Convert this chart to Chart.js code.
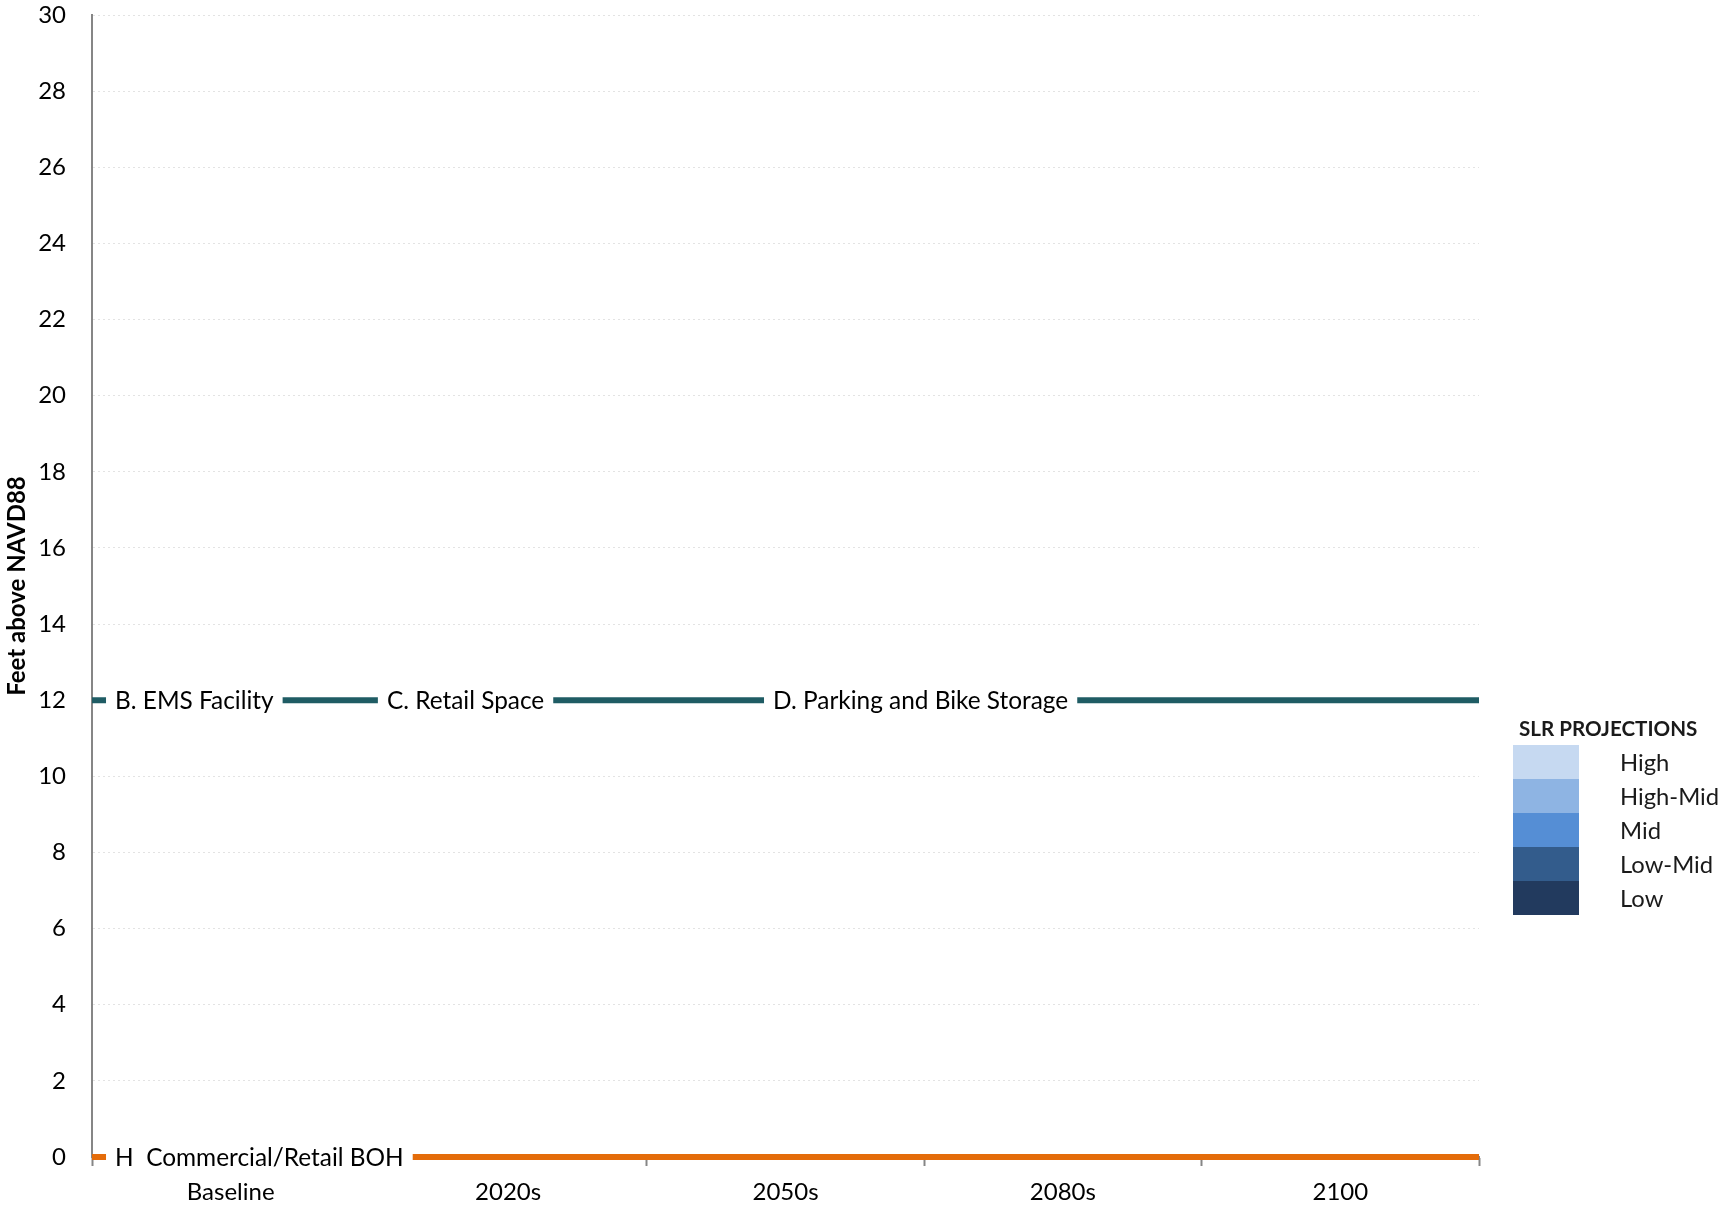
<!DOCTYPE html>
<html>
<head>
<meta charset="utf-8">
<title>Flood elevations of building uses</title>
<script src="https://cdn.jsdelivr.net/npm/chart.js@4/dist/chart.umd.min.js"></script>
<style>
  html, body { margin: 0; padding: 0; background: #ffffff; }
  #wrap { width: 1722px; height: 1209px; position: relative; }
</style>
</head>
<body>
<div id="wrap"><canvas id="chart"></canvas></div>
<script>
// Time horizons shown along the bottom axis
const periods = ['Baseline', '2020s', '2050s', '2080s', '2100'];

// Start and end of each elevation line, in period widths from the axis
const spanEnds = [0, 5];

// Elevation (feet above NAVD88) of each group of building uses
const upperElevation = [12, 12];
const lowerElevation = [0, 0];

// Uses sitting on each elevation line
const upperUses = ['B. EMS Facility', 'C. Retail Space', 'D. Parking and Bike Storage'];
const lowerUses = ['H  Commercial/Retail BOH'];

// Sea level rise scenarios in the key, top to bottom
const slrScenarios = ['High', 'High-Mid', 'Mid', 'Low-Mid', 'Low'];

const FONT = 'Lato, "Open Sans", sans-serif';
const AXIS_GREY = '#868686';

// Writes the use names on top of the elevation lines, each on a white box
const useNamesPlugin = {
  id: 'useNames',
  afterDatasetsDraw(chart, args, opts) {
    const ctx = chart.ctx;
    const xs = chart.scales.xSpan;
    const ys = chart.scales.y;
    ctx.save();
    ctx.font = opts.font;
    ctx.textBaseline = 'middle';
    ctx.textAlign = 'left';
    chart.data.datasets.forEach(ds => {
      const py = ys.getPixelForValue(ds.data[0].y);
      ds.useNames.forEach((name, i) => {
        const px = xs.getPixelForValue(ds.nameAnchors[i]);
        const w = ctx.measureText(name).width;
        ctx.fillStyle = '#ffffff';
        ctx.fillRect(px - opts.gap, py - opts.boxHalf, w + 2 * opts.gap, 2 * opts.boxHalf);
        ctx.fillStyle = '#000000';
        ctx.fillText(name, px, py + 1);
      });
    });
    ctx.restore();
  }
};

// Stacked colour key for the sea level rise scenarios
const slrKeyPlugin = {
  id: 'slrKey',
  afterDraw(chart, args, opts) {
    const ctx = chart.ctx;
    const left = chart.chartArea.right + opts.offsetX;
    ctx.save();
    ctx.font = 'bold ' + opts.titleSize + 'px ' + FONT;
    ctx.fillStyle = '#1a1a1a';
    ctx.textBaseline = 'middle';
    ctx.textAlign = 'left';
    ctx.fillText(opts.title, left + 6, opts.titleY);
    ctx.font = opts.labelSize + 'px ' + FONT;
    slrScenarios.forEach((name, i) => {
      const top = opts.top + i * opts.rowHeight;
      ctx.fillStyle = opts.colors[i];
      ctx.fillRect(left, top, opts.swatchWidth, opts.rowHeight);
      ctx.fillStyle = '#1a1a1a';
      ctx.fillText(name, left + opts.labelX, top + opts.rowHeight / 2 + 1);
    });
    ctx.restore();
  }
};

new Chart(document.getElementById('chart'), {
  type: 'line',
  data: {
    labels: periods,
    datasets: [
      {
        label: 'Upper uses',
        data: spanEnds.map((x, i) => ({ x, y: upperElevation[i] })),
        xAxisID: 'xSpan',
        borderColor: '#1f5c64',
        borderWidth: 6,
        borderCapStyle: 'butt',
        pointRadius: 0,
        tension: 0,
        clip: false,
        useNames: upperUses,
        nameAnchors: [0.083, 1.063, 2.455]
      },
      {
        label: 'Lower uses',
        data: spanEnds.map((x, i) => ({ x, y: lowerElevation[i] })),
        xAxisID: 'xSpan',
        borderColor: '#e46c0a',
        borderWidth: 6,
        borderCapStyle: 'butt',
        pointRadius: 0,
        tension: 0,
        clip: false,
        useNames: lowerUses,
        nameAnchors: [0.083]
      }
    ]
  },
  options: {
    responsive: true,
    maintainAspectRatio: false,
    animation: false,
    layout: { padding: { top: 15, right: 243, bottom: 0, left: 0 } },
    plugins: {
      legend: { display: false },
      tooltip: { enabled: false },
      useNames: { font: '24.4px ' + FONT, gap: 9, boxHalf: 13 },
      slrKey: {
        title: 'SLR PROJECTIONS',
        titleSize: 20.6,
        titleY: 729,
        labelSize: 23.8,
        offsetX: 34,
        top: 745,
        rowHeight: 34,
        swatchWidth: 66,
        labelX: 107,
        colors: ['#c6d9f1', '#8eb4e3', '#558ed5', '#335c8c', '#223a5e']
      }
    },
    scales: {
      x: {
        type: 'category',
        position: 'bottom',
        offset: true,
        grid: {
          offset: true,
          drawOnChartArea: false,
          drawTicks: true,
          tickLength: 9,
          tickWidth: 2,
          tickColor: AXIS_GREY,
          color: AXIS_GREY
        },
        border: { display: true, color: AXIS_GREY, width: 2 },
        ticks: { color: '#000000', padding: 12, font: { family: FONT, size: 24 }, maxRotation: 0 },
        afterFit(scale) { scale.height = 52; scale.paddingLeft = 0; scale.paddingRight = 0; }
      },
      xSpan: {
        type: 'linear',
        display: false,
        min: 0,
        max: 5
      },
      y: {
        type: 'linear',
        min: 0,
        max: 30,
        grid: {
          drawTicks: false,
          color: '#e3e3e3',
          lineWidth: 1
        },
        border: { display: true, color: AXIS_GREY, width: 2, dash: [2, 3] },
        ticks: { stepSize: 2, padding: 26, color: '#000000', font: { family: FONT, size: 24 } },
        title: {
          display: true,
          text: 'Feet above NAVD88',
          color: '#000000',
          font: { family: FONT, size: 24, weight: 'bold' },
          padding: { top: 3, bottom: 0 }
        },
        afterFit(scale) { scale.width = 92; scale.paddingTop = 0; scale.paddingBottom = 0; }
      }
    }
  },
  plugins: [useNamesPlugin, slrKeyPlugin]
});
</script>
</body>
</html>
